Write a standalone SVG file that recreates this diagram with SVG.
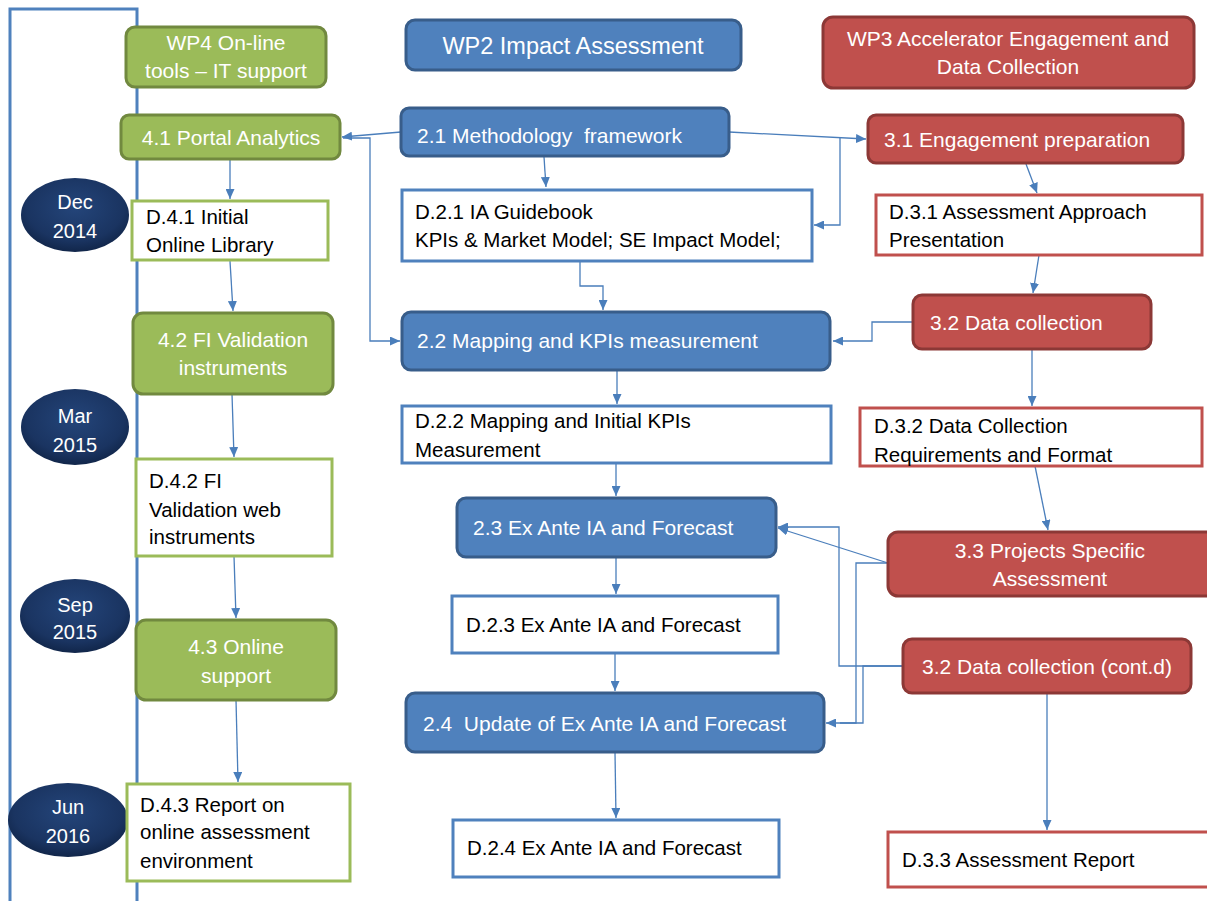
<svg xmlns="http://www.w3.org/2000/svg" width="1207" height="901" viewBox="0 0 1207 901">
  <style>
    text { font-family: "Liberation Sans", Arial, sans-serif; }
    .wt { fill: #ffffff; font-size: 21px; }
    .bt { fill: #000000; font-size: 20.5px; }
    .mid { text-anchor: middle; }
    .blue { fill: #4f81bd; stroke: #385d8a; stroke-width: 3; }
    .red { fill: #c0504d; stroke: #8c3836; stroke-width: 3; }
    .green { fill: #9bbb59; stroke: #71893f; stroke-width: 3; }
    .dblue { fill: #ffffff; stroke: #4f81bd; stroke-width: 3; }
    .dred { fill: #ffffff; stroke: #c0504d; stroke-width: 3; }
    .dgreen { fill: #ffffff; stroke: #9bbb59; stroke-width: 3; }
    .date { fill: url(#navy); }
    .conn { fill: none; stroke: #4a7ebb; stroke-width: 1.3; marker-end: url(#arr); }
    .plain { fill: none; stroke: #4a7ebb; stroke-width: 1.3; }
    .axis { fill: none; stroke: #4f81bd; stroke-width: 3; }
  </style>
  <defs>
    <marker id="arr" markerUnits="userSpaceOnUse" markerWidth="10" markerHeight="9" refX="10" refY="4.5" orient="auto">
      <path d="M0,0 L10,4.5 L0,9 z" fill="#4a7ebb"/>
    </marker>
    <radialGradient id="navy" cx="50%" cy="40%" r="60%">
      <stop offset="0" stop-color="#24457a"/>
      <stop offset="0.75" stop-color="#1a3461"/>
      <stop offset="1" stop-color="#11264a"/>
    </radialGradient>
  </defs>

  <rect width="1207" height="901" fill="#ffffff"/>

  <!-- timeline frame -->
  <path class="axis" d="M10,901 V9 H137 V901"/>

  <!-- date markers -->
  <g id="date-dec-2014">
    <ellipse class="date" cx="75" cy="215" rx="54" ry="37"/>
    <text class="wt mid" x="75" y="209" style="font-size:20px">Dec</text>
    <text class="wt mid" x="75" y="238" style="font-size:20px">2014</text>
  </g>
  <g id="date-mar-2015">
    <ellipse class="date" cx="75" cy="427" rx="54" ry="38"/>
    <text class="wt mid" x="75" y="423" style="font-size:20px">Mar</text>
    <text class="wt mid" x="75" y="452" style="font-size:20px">2015</text>
  </g>
  <g id="date-sep-2015">
    <ellipse class="date" cx="75" cy="616" rx="55" ry="37"/>
    <text class="wt mid" x="75" y="612" style="font-size:20px">Sep</text>
    <text class="wt mid" x="75" y="639" style="font-size:20px">2015</text>
  </g>
  <g id="date-jun-2016">
    <ellipse class="date" cx="68" cy="820" rx="60" ry="37"/>
    <text class="wt mid" x="68" y="814" style="font-size:20px">Jun</text>
    <text class="wt mid" x="68" y="843" style="font-size:20px">2016</text>
  </g>

  <!-- connectors -->
  <g id="connectors">
    <!-- WP4 column -->
    <path class="conn" d="M230,160 L230,199"/>
    <path class="conn" d="M230,261 L233,311"/>
    <path class="conn" d="M232,394 L234,457"/>
    <path class="conn" d="M234,556 L236,618"/>
    <path class="conn" d="M236,700 L238,782"/>
    <!-- WP2 links -->
    <path class="conn" d="M401,132 L342,137"/>
    <path class="conn" d="M343,138 H370 V341 H400"/>
    <path class="conn" d="M544,157 L546,187"/>
    <path class="conn" d="M729,132 L866,139"/>
    <path class="conn" d="M840,138 V225 H814"/>
    <path class="conn" d="M580,261 V286 H603 V310"/>
    <path class="conn" d="M617,370 V404"/>
    <path class="conn" d="M616,463 V496"/>
    <path class="conn" d="M616,557 V594"/>
    <path class="conn" d="M615,653 V691"/>
    <path class="conn" d="M615,752 L616,818"/>
    <!-- WP3 column -->
    <path class="conn" d="M1026,164 L1037,193"/>
    <path class="conn" d="M1039,255 L1033,293"/>
    <path class="conn" d="M913,322 H872 V341 H833"/>
    <path class="conn" d="M1032,349 V406"/>
    <path class="conn" d="M1035,466 L1048,530"/>
    <path class="conn" d="M888,563 L778,528"/>
    <path class="conn" d="M903,666 H839 V527 H778"/>
    <path class="conn" d="M888,563 H856 V723 H826"/>
    <path class="plain" d="M903,666 H863 V723 H840"/>
    <path class="conn" d="M1047,693 V830"/>
  </g>

  <!-- WP4 On-line tools -->
  <g id="wp4">
    <rect class="green" x="126" y="27" width="200" height="60" rx="9"/>
    <text class="wt mid" x="226" y="50">WP4 On-line</text>
    <text class="wt mid" x="226" y="78">tools – IT support</text>
  </g>
  <g id="t4-1">
    <rect class="green" x="121" y="115" width="219" height="44" rx="8"/>
    <text class="wt mid" x="231" y="145">4.1 Portal Analytics</text>
  </g>
  <g id="d4-1">
    <rect class="dgreen" x="132" y="201" width="196" height="59"/>
    <text class="bt" x="146" y="224">D.4.1 Initial</text>
    <text class="bt" x="146" y="252">Online Library</text>
  </g>
  <g id="t4-2">
    <rect class="green" x="133" y="313" width="200" height="81" rx="10"/>
    <text class="wt mid" x="233" y="347">4.2 FI Validation</text>
    <text class="wt mid" x="233" y="375">instruments</text>
  </g>
  <g id="d4-2">
    <rect class="dgreen" x="136" y="459" width="196" height="97"/>
    <text class="bt" x="149" y="488">D.4.2 FI</text>
    <text class="bt" x="149" y="517">Validation web</text>
    <text class="bt" x="149" y="544">instruments</text>
  </g>
  <g id="t4-3">
    <rect class="green" x="136" y="620" width="200" height="80" rx="10"/>
    <text class="wt mid" x="236" y="654">4.3 Online</text>
    <text class="wt mid" x="236" y="683">support</text>
  </g>
  <g id="d4-3">
    <rect class="dgreen" x="127" y="784" width="223" height="97"/>
    <text class="bt" x="140" y="812">D.4.3 Report on</text>
    <text class="bt" x="140" y="839">online assessment</text>
    <text class="bt" x="140" y="868">environment</text>
  </g>

  <!-- WP2 Impact Assessment -->
  <g id="wp2">
    <rect class="blue" x="406" y="20" width="335" height="50" rx="9"/>
    <text class="wt mid" x="573" y="54" style="font-size:23.5px">WP2 Impact Assessment</text>
  </g>
  <g id="t2-1">
    <rect class="blue" x="401" y="108" width="328" height="48" rx="8"/>
    <text class="wt" x="417" y="143" xml:space="preserve">2.1 Methodology  framework</text>
  </g>
  <g id="d2-1">
    <rect class="dblue" x="402" y="190" width="410" height="71"/>
    <text class="bt" x="415" y="219">D.2.1 IA Guidebook</text>
    <text class="bt" x="415" y="247">KPIs &amp; Market Model; SE Impact Model;</text>
  </g>
  <g id="t2-2">
    <rect class="blue" x="402" y="312" width="428" height="58" rx="9"/>
    <text class="wt" x="417" y="348">2.2 Mapping and KPIs measurement</text>
  </g>
  <g id="d2-2">
    <rect class="dblue" x="402" y="406" width="429" height="57"/>
    <text class="bt" x="415" y="428">D.2.2 Mapping and Initial KPIs</text>
    <text class="bt" x="415" y="457">Measurement</text>
  </g>
  <g id="t2-3">
    <rect class="blue" x="457" y="498" width="319" height="59" rx="9"/>
    <text class="wt" x="473" y="535">2.3 Ex Ante IA and Forecast</text>
  </g>
  <g id="d2-3">
    <rect class="dblue" x="452" y="596" width="326" height="57"/>
    <text class="bt" x="466" y="632">D.2.3 Ex Ante IA and Forecast</text>
  </g>
  <g id="t2-4">
    <rect class="blue" x="406" y="693" width="418" height="59" rx="9"/>
    <text class="wt" x="423" y="731" xml:space="preserve">2.4  Update of Ex Ante IA and Forecast</text>
  </g>
  <g id="d2-4">
    <rect class="dblue" x="453" y="820" width="326" height="57"/>
    <text class="bt" x="467" y="855">D.2.4 Ex Ante IA and Forecast</text>
  </g>

  <!-- WP3 Accelerator Engagement -->
  <g id="wp3">
    <rect class="red" x="823" y="17" width="371" height="71" rx="10"/>
    <text class="wt mid" x="1008" y="46">WP3 Accelerator Engagement and</text>
    <text class="wt mid" x="1008" y="74">Data Collection</text>
  </g>
  <g id="t3-1">
    <rect class="red" x="868" y="115" width="315" height="48" rx="8"/>
    <text class="wt" x="884" y="147">3.1 Engagement preparation</text>
  </g>
  <g id="d3-1">
    <rect class="dred" x="876" y="195" width="326" height="60"/>
    <text class="bt" x="889" y="219">D.3.1 Assessment Approach</text>
    <text class="bt" x="889" y="247">Presentation</text>
  </g>
  <g id="t3-2">
    <rect class="red" x="913" y="295" width="238" height="54" rx="9"/>
    <text class="wt" x="930" y="330">3.2 Data collection</text>
  </g>
  <g id="d3-2">
    <rect class="dred" x="860" y="408" width="342" height="58"/>
    <text class="bt" x="874" y="433">D.3.2 Data Collection</text>
    <text class="bt" x="874" y="462">Requirements and Format</text>
  </g>
  <g id="t3-3">
    <rect class="red" x="888" y="532" width="330" height="64" rx="10"/>
    <text class="wt mid" x="1050" y="558">3.3 Projects Specific</text>
    <text class="wt mid" x="1050" y="586">Assessment</text>
  </g>
  <g id="t3-2b">
    <rect class="red" x="903" y="639" width="288" height="54" rx="9"/>
    <text class="wt mid" x="1047" y="674">3.2 Data collection (cont.d)</text>
  </g>
  <g id="d3-3">
    <rect class="dred" x="888" y="832" width="330" height="55"/>
    <text class="bt" x="902" y="867">D.3.3 Assessment Report</text>
  </g>
</svg>
